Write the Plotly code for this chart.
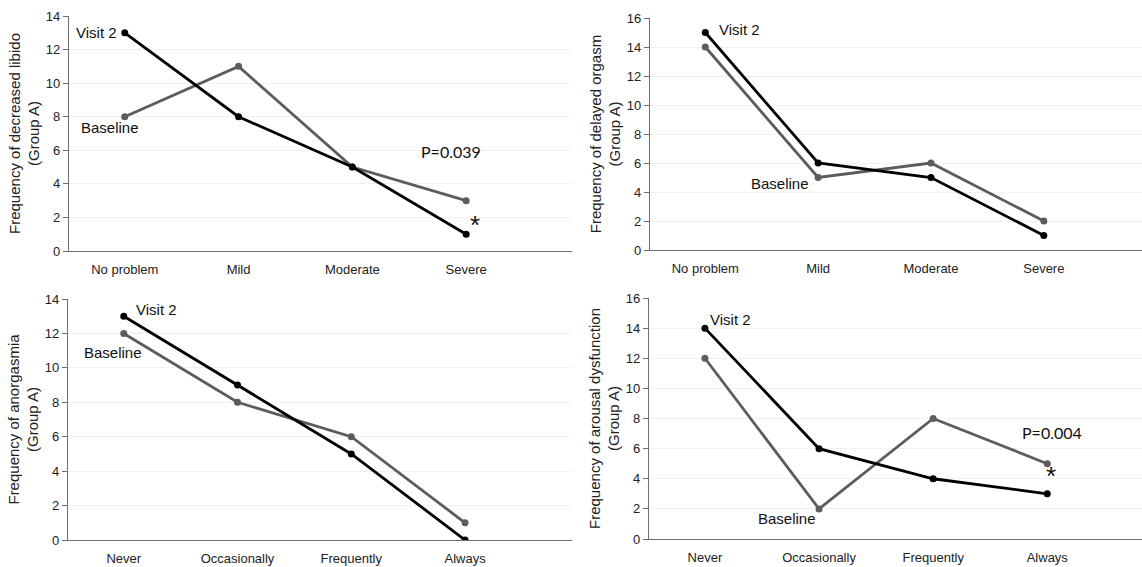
import plotly.graph_objects as go

W, H = 1142, 567

severity_cats = ["No problem", "Mild", "Moderate", "Severe"]
frequency_cats = ["Never", "Occasionally", "Frequently", "Always"]

libido_baseline = [8, 11, 5, 3]
libido_visit2 = [13, 8, 5, 1]
orgasm_baseline = [14, 5, 6, 2]
orgasm_visit2 = [15, 6, 5, 1]
anorgasmia_baseline = [12, 8, 6, 1]
anorgasmia_visit2 = [13, 9, 5, 0]
arousal_baseline = [12, 2, 8, 5]
arousal_visit2 = [14, 6, 4, 3]

y_titles = [
    "Frequency of decreased libido<br>(Group A)",
    "Frequency of delayed orgasm<br>(Group A)",
    "Frequency of anorgasmia<br>(Group A)",
    "Frequency of arousal dysfunction<br>(Group A)",
]

BLACK = "#000000"
GRAY = "#5c5c5c"
AXIS = "#6e6e6e"
GRID = "#f1f1f1"
FONT = "Liberation Sans, Arial, sans-serif"

panels = [
    # cats, baseline, visit2, xdomain(px), ytop px, ybottom px, ymax, xrange
    (severity_cats, libido_baseline, libido_visit2, (69, 572), 16, 251, 14, (-0.49, 3.93)),
    (severity_cats, orgasm_baseline, orgasm_visit2, (650, 1142), 18, 250, 16, (-0.49, 3.87)),
    (frequency_cats, anorgasmia_baseline, anorgasmia_visit2, (68, 572), 299, 540, 14, (-0.49, 3.94)),
    (frequency_cats, arousal_baseline, arousal_visit2, (649, 1142), 298, 539, 16, (-0.49, 3.83)),
]

fig = go.Figure()
layout = {}
for i, (cats, base, v2, xd, yt, yb, ymax, xr) in enumerate(panels, start=1):
    xa = "x" if i == 1 else f"x{i}"
    ya = "y" if i == 1 else f"y{i}"
    fig.add_trace(go.Scatter(x=cats, y=base, mode="lines+markers", xaxis=xa, yaxis=ya,
                             line=dict(color=GRAY, width=2.8), marker=dict(color=GRAY, size=7),
                             showlegend=False, name="Baseline"))
    fig.add_trace(go.Scatter(x=cats, y=v2, mode="lines+markers", xaxis=xa, yaxis=ya,
                             line=dict(color=BLACK, width=2.8), marker=dict(color=BLACK, size=7),
                             showlegend=False, name="Visit 2"))
    xkey = "xaxis" if i == 1 else f"xaxis{i}"
    ykey = "yaxis" if i == 1 else f"yaxis{i}"
    layout[xkey] = dict(
        domain=[xd[0] / W, xd[1] / W], anchor=ya, type="category",
        categoryorder="array", categoryarray=cats, automargin=False,
        range=list(xr), showgrid=False, zeroline=False,
        showline=True, linecolor=AXIS, linewidth=1.2, ticks="",
        ticklabelstandoff=6,
        tickfont=dict(family=FONT, size=13, color="#222222"),
    )
    layout[ykey] = dict(
        domain=[(H - yb) / H, (H - yt) / H], anchor=xa, automargin=False,
        range=[0, ymax], dtick=2, showgrid=True, gridcolor=GRID, gridwidth=1,
        zeroline=False, showline=True, linecolor=AXIS, linewidth=1.2,
        ticks="outside", ticklen=5, tickcolor=AXIS,
        tickfont=dict(family=FONT, size=13, color="#222222"),
        title=dict(text=y_titles[i - 1], font=dict(family=FONT, size=15, color="#222222"),
                   standoff=2),
    )

fig.update_layout(**layout)

ann_font = dict(family=FONT, size=15, color="#111111")
p_font = dict(family="Lato, Carlito, sans-serif", size=16, color="#111111")
star_font = dict(family=FONT, size=26, color="#111111")
annotations = [
    dict(xref="x", yref="y", x=-0.05, y=13, text="Visit 2", xanchor="right", font=ann_font),
    dict(xref="x", yref="y", x=-0.13, y=7.33, text="Baseline", xanchor="center", font=ann_font),
    dict(xref="x", yref="y", x=2.87, y=5.9, text="P=0.039", xanchor="center", font=p_font),
    dict(xref="x", yref="y", x=3.08, y=1.55, text="*", xanchor="center", font=star_font),
    dict(xref="x2", yref="y2", x=0.106, y=15.24, text="Visit 2", xanchor="left", font=ann_font),
    dict(xref="x2", yref="y2", x=0.66, y=4.62, text="Baseline", xanchor="center", font=ann_font),
    dict(xref="x3", yref="y3", x=0.088, y=13.37, text="Visit 2", xanchor="left", font=ann_font),
    dict(xref="x3", yref="y3", x=-0.092, y=10.87, text="Baseline", xanchor="center", font=ann_font),
    dict(xref="x4", yref="y4", x=0.026, y=14.54, text="Visit 2", xanchor="left", font=ann_font),
    dict(xref="x4", yref="y4", x=0.72, y=1.33, text="Baseline", xanchor="center", font=ann_font),
    dict(xref="x4", yref="y4", x=3.04, y=7.1, text="P=0.004", xanchor="center", font=p_font),
    dict(xref="x4", yref="y4", x=3.03, y=4.2, text="*", xanchor="center", font=star_font),
]
for a in annotations:
    a["showarrow"] = False
fig.update_layout(
    annotations=annotations,
    width=W, height=H,
    margin=dict(l=0, r=0, t=0, b=0),
    paper_bgcolor="white", plot_bgcolor="white",
)

fig.write_html("out.html", config={"displayModeBar": False},
               post_script="document.body.style.margin='0';")
